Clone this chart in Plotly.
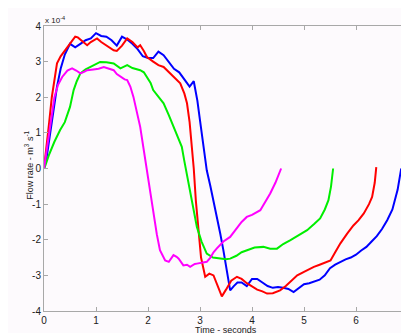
import plotly.graph_objects as go

# ---- data (flow rate in units of 1e-4 m^3/s) ----
blue_t = [0, 0.05, 0.12, 0.18, 0.25, 0.32, 0.4, 0.5, 0.6, 0.7, 0.8, 0.9, 1.0, 1.1, 1.2, 1.3, 1.4, 1.5, 1.6, 1.7,
          1.8, 1.9, 2.0, 2.1, 2.2, 2.3, 2.4, 2.5, 2.6, 2.7, 2.8, 2.88, 2.95, 3.0, 3.07, 3.13, 3.2, 3.26, 3.33, 3.39,
          3.45, 3.5, 3.55, 3.58, 3.65, 3.72, 3.8, 3.9, 4.0, 4.1, 4.2, 4.3, 4.4, 4.5, 4.6, 4.7, 4.8, 4.9, 5.0, 5.1,
          5.2, 5.3, 5.4, 5.5, 5.6, 5.7, 5.8, 5.9, 6.0, 6.1, 6.2, 6.3, 6.4, 6.5, 6.6, 6.7, 6.8, 6.87]
blue_v = [0, 0.3, 1.0, 1.6, 2.3, 2.8, 3.2, 3.5, 3.4, 3.5, 3.6, 3.65, 3.8, 3.72, 3.7, 3.6, 3.45, 3.7, 3.62, 3.5,
          3.35, 3.15, 3.1, 3.1, 3.28, 3.18, 3.0, 2.8, 2.7, 2.5, 2.3, 2.45, 1.9, 1.35, 0.55, -0.05, -0.5, -0.9, -1.4, -1.83,
          -2.3, -2.75, -3.2, -3.42, -3.3, -3.2, -3.2, -3.3, -3.1, -3.1, -3.2, -3.3, -3.35, -3.33, -3.35, -3.38, -3.47, -3.35, -3.25, -3.22,
          -3.18, -3.12, -3.0, -2.8, -2.7, -2.62, -2.55, -2.5, -2.42, -2.3, -2.2, -2.05, -1.9, -1.7, -1.45, -1.15, -0.6, 0.0]

red_t = [0, 0.05, 0.1, 0.15, 0.2, 0.25, 0.32, 0.4, 0.5, 0.6, 0.65, 0.75, 0.83, 0.9, 1.02, 1.1, 1.2, 1.34, 1.4, 1.5,
         1.6, 1.7, 1.8, 1.85, 1.92, 1.98, 2.1, 2.2, 2.3, 2.36, 2.45, 2.55, 2.62, 2.7, 2.75, 2.8, 2.85, 2.88, 2.92, 2.97,
         3.02, 3.1, 3.18, 3.26, 3.34, 3.42, 3.5, 3.6, 3.71, 3.8, 3.9, 3.97, 4.1, 4.2, 4.29, 4.4, 4.54, 4.65, 4.75, 4.87,
         5.0, 5.1, 5.19, 5.3, 5.4, 5.51, 5.6, 5.7, 5.83, 5.95, 6.05, 6.15, 6.25, 6.31, 6.36, 6.39]
red_v = [0, 0.6, 1.3, 2.0, 2.5, 2.95, 3.15, 3.3, 3.5, 3.7, 3.68, 3.55, 3.46, 3.55, 3.65, 3.55, 3.45, 3.32, 3.3, 3.45,
         3.65, 3.55, 3.4, 3.46, 3.3, 3.13, 3.0, 2.9, 2.85, 2.76, 2.65, 2.5, 2.39, 2.1, 1.83, 1.3, 0.6, 0.0, -0.9, -1.83,
         -2.5, -3.04, -2.95, -3.0, -3.3, -3.59, -3.4, -3.15, -3.04, -3.1, -3.22, -3.28, -3.4, -3.45, -3.51, -3.5, -3.42, -3.3, -3.15, -3.0,
         -2.9, -2.82, -2.76, -2.7, -2.65, -2.58, -2.35, -2.1, -1.83, -1.6, -1.45, -1.26, -1.0, -0.8, -0.4, 0.04]

green_t = [0, 0.03, 0.1, 0.2, 0.31, 0.4, 0.5, 0.57, 0.63, 0.7, 0.8, 0.89, 1.0, 1.08, 1.2, 1.34, 1.47, 1.55, 1.6, 1.7,
           1.85, 1.92, 1.98, 2.05, 2.1, 2.2, 2.3, 2.4, 2.49, 2.57, 2.65, 2.7, 2.75, 2.81, 2.88, 2.94, 3.03, 3.13, 3.25, 3.39,
           3.5, 3.58, 3.7, 3.8, 3.9, 4.05, 4.22, 4.35, 4.48, 4.6, 4.74, 4.9, 5.06, 5.2, 5.31, 5.4, 5.47, 5.52, 5.56]
green_v = [0, 0.1, 0.4, 0.75, 1.08, 1.3, 1.73, 2.2, 2.45, 2.67, 2.78, 2.85, 2.95, 2.99, 2.98, 2.95, 2.81, 2.88, 2.9, 2.82,
           2.76, 2.7, 2.57, 2.4, 2.2, 2.0, 1.83, 1.5, 1.17, 0.9, 0.61, 0.2, -0.2, -0.7, -1.2, -1.64, -2.05, -2.39, -2.5, -2.53,
           -2.55, -2.53, -2.45, -2.35, -2.29, -2.22, -2.2, -2.25, -2.25, -2.12, -2.01, -1.88, -1.73, -1.55, -1.4, -1.15, -0.89, -0.5, 0.0]

magenta_t = [0, 0.05, 0.1, 0.15, 0.2, 0.27, 0.35, 0.45, 0.54, 0.62, 0.7, 0.78, 0.83, 0.95, 1.05, 1.15, 1.25, 1.34, 1.4, 1.47,
             1.55, 1.6, 1.66, 1.72, 1.78, 1.85, 1.91, 1.97, 2.04, 2.11, 2.17, 2.23, 2.33, 2.4, 2.45, 2.49, 2.55, 2.59, 2.68, 2.75,
             2.81, 2.9, 2.94, 3.05, 3.13, 3.2, 3.26, 3.32, 3.45, 3.58, 3.7, 3.8, 3.9, 4.0, 4.16, 4.25, 4.35, 4.45, 4.54, 4.56]
magenta_v = [0, 0.5, 1.1, 1.6, 2.0, 2.35, 2.57, 2.75, 2.81, 2.75, 2.67, 2.72, 2.76, 2.78, 2.8, 2.85, 2.8, 2.76, 2.65, 2.57,
             2.5, 2.48, 2.3, 2.01, 1.6, 1.17, 0.6, 0.05, -0.7, -1.36, -1.85, -2.29, -2.58, -2.62, -2.5, -2.43, -2.48, -2.53, -2.72, -2.7,
             -2.76, -2.68, -2.67, -2.64, -2.62, -2.5, -2.35, -2.25, -2.05, -1.92, -1.7, -1.5, -1.36, -1.3, -1.17, -0.95, -0.7, -0.4, -0.1, 0.0]

x_ticks = [0, 1, 2, 3, 4, 5, 6, 7]
y_ticks = [-4, -3, -2, -1, 0, 1, 2, 3, 4]

series = [
    (blue_t, blue_v, "#0000ff"),
    (red_t, red_v, "#ff0000"),
    (green_t, green_v, "#00ee00"),
    (magenta_t, magenta_v, "#ff00ff"),
]

fig = go.Figure()
for t, v, c in series:
    fig.add_trace(go.Scatter(x=t, y=v, mode="lines", line=dict(color=c, width=2), showlegend=False))

bg = "#fdfafd"
font = "Liberation Sans, Arial"
axis_common = dict(showgrid=False, zeroline=False, showline=True, linecolor="#a8a8a8", linewidth=1,
                   mirror="ticks", ticks="inside", ticklen=4, tickcolor="#a8a8a8",
                   tickfont=dict(family=font, size=10, color="#202020"))

# last x tick label sits on the page edge; plotly hides it, so draw it as text
edge_label = dict(text=str(x_ticks[-1]), xref="x", yref="paper", x=x_ticks[-1], y=0, yshift=-2,
                  xanchor="center", yanchor="top", showarrow=False,
                  font=dict(family=font, size=10, color="#202020"))

fig.update_layout(
    width=401, height=325,
    margin=dict(l=36, r=1, t=18, b=22),
    paper_bgcolor=bg, plot_bgcolor=bg,
    xaxis=dict(range=[0, 7], tickvals=x_ticks[:-1], ticktext=[str(v) for v in x_ticks[:-1]], **axis_common),
    yaxis=dict(range=[-4, 4], tickvals=y_ticks, ticktext=[str(v) for v in y_ticks], **axis_common),
    annotations=[
        dict(text="x 10<sup>-4</sup>", xref="paper", yref="paper", x=-1 / 364, y=1 + 6 / 285, xanchor="left",
             yanchor="middle", showarrow=False, font=dict(family=font, size=8, color="#202020")),
        dict(text="Time - seconds", xref="paper", yref="paper", x=0.5, y=-18.5 / 285, xanchor="center",
             yanchor="middle", showarrow=False, font=dict(family=font, size=9, color="#202020")),
        dict(text="Flow rate - m<sup>3</sup> s<sup>-1</sup>", xref="paper", yref="paper", x=-15 / 364, y=0.51,
             xanchor="center", yanchor="middle", textangle=-90, showarrow=False,
             font=dict(family=font, size=9, color="#202020")),
        edge_label,
    ],
)

fig.write_html("out.html")
